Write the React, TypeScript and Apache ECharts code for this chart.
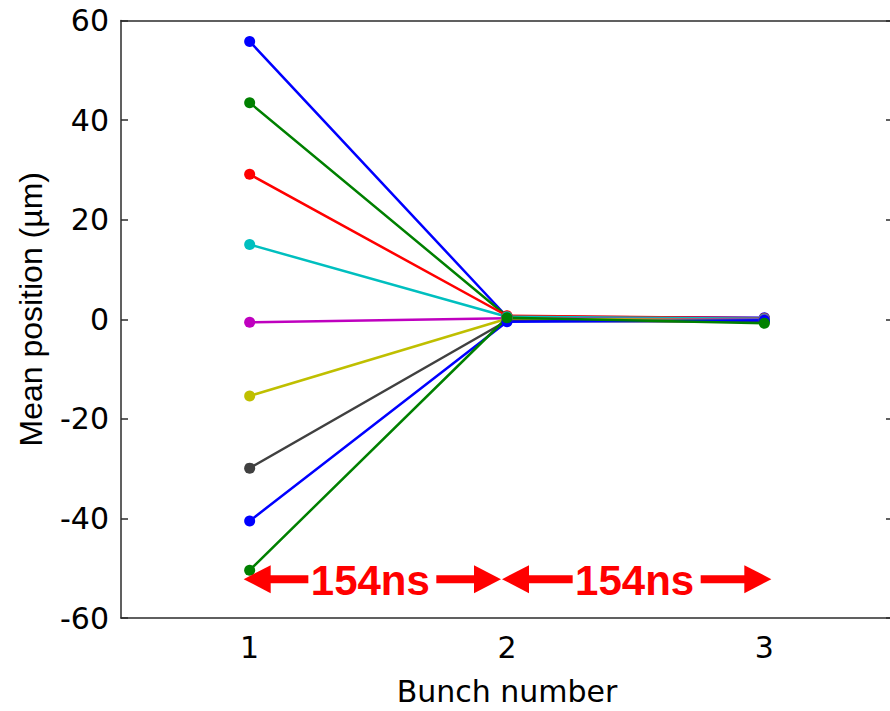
import React, { useEffect, useRef } from "react";
import * as echarts from "echarts";

const bunches = ["1", "2", "3"];
const yTicks = [-60, -40, -20, 0, 20, 40, 60];
const seriesColors = ["#0000FF", "#008000", "#FF0000", "#00BFBF", "#BF00BF", "#BFBF00", "#404040", "#0000FF", "#008000"];
const bunch1 = [55.8, 43.5, 29.1, 15.0, -0.6, -15.4, -29.9, -40.5, -50.4];
const bunch2 = [0.5, 0.6, 0.7, 0.5, 0.2, 0.1, -0.3, -0.5, 0.3];
const bunch3 = [0.3, 0.0, 0.2, 0.1, -0.1, -0.2, -0.5, -0.2, -0.8];
const arrowStart = [0, 1];
const arrowEnd = [1, 2];
const arrowY = [-52.2, -52.2];
const arrowLabels = ["154ns", "154ns"];

const AXIS_COLOR = "#2b2b2b";
const TICK_FONT = "DejaVu Sans";

export default function App() {
  const ref = useRef<HTMLDivElement>(null);
  useEffect(() => {
    if (!ref.current) return;
    const chart = echarts.init(ref.current, null, { renderer: "svg" });

    const lineSeries = seriesColors.map((c, i) => ({
      type: "line",
      xAxisIndex: 0,
      yAxisIndex: 0,
      data: [bunch1[i], bunch2[i], bunch3[i]],
      symbol: "circle",
      symbolSize: 11,
      showSymbol: true,
      itemStyle: { color: c },
      lineStyle: { color: c, width: 2.5 },
      z: 3,
    }));

    const tipPad = [[-6, -6], [-5, 7]];

    const arrowSeries = {
      type: "custom",
      xAxisIndex: 0,
      yAxisIndex: 0,
      data: arrowStart.map((s, i) => [s, arrowEnd[i], arrowY[i]]),
      encode: { x: [0, 1], y: 2 },
      z: 5,
      renderItem: (params: any, api: any) => {
        const i = params.dataIndex;
        const a = api.coord([api.value(0), api.value(2)]);
        const b = api.coord([api.value(1), api.value(2)]);
        const sx = a[0] + tipPad[i][0];
        const ex = b[0] + tipPad[i][1];
        const py = a[1];
        const mid = (sx + ex) / 2;
        const headL = 27;
        const headH = 14;
        const shaft = 4;
        const gap = 64;
        const red = "#FF0000";
        return {
          type: "group",
          children: [
            { type: "polygon", shape: { points: [[sx, py], [sx + headL, py - headH], [sx + headL, py + headH]] }, style: { fill: red } },
            { type: "rect", shape: { x: sx + headL - 1, y: py - shaft, width: mid - gap - (sx + headL - 1), height: shaft * 2 }, style: { fill: red } },
            { type: "rect", shape: { x: mid + gap, y: py - shaft, width: ex - headL + 1 - (mid + gap), height: shaft * 2 }, style: { fill: red } },
            { type: "polygon", shape: { points: [[ex, py], [ex - headL, py - headH], [ex - headL, py + headH]] }, style: { fill: red } },
            {
              type: "text",
              x: mid - 2,
              y: py + 1,
              style: {
                text: arrowLabels[i],
                fill: red,
                font: "bold 42px 'Liberation Sans', Arial, sans-serif",
                align: "center",
                verticalAlign: "middle",
              },
            },
          ],
        };
      },
    };

    const option: any = {
      animation: false,
      backgroundColor: "#ffffff",
      grid: { left: 121, top: 20.5, width: 772, height: 600.5, containLabel: false },
      xAxis: [
        {
          type: "category",
          data: bunches,
          boundaryGap: true,
          position: "bottom",
          name: "Bunch number",
          nameLocation: "middle",
          nameGap: 58,
          nameTextStyle: { fontFamily: TICK_FONT, fontSize: 30, color: "#000" },
          axisLine: { onZero: false, lineStyle: { color: AXIS_COLOR, width: 1.5 } },
          axisTick: { inside: true, alignWithLabel: true, length: 7, lineStyle: { color: AXIS_COLOR, width: 1.5 } },
          axisLabel: { fontFamily: TICK_FONT, fontSize: 30, color: "#000", margin: 14 },
          splitLine: { show: false },
        },
        {
          type: "category",
          data: bunches,
          boundaryGap: true,
          position: "top",
          axisLine: { onZero: false, lineStyle: { color: AXIS_COLOR, width: 1.5 } },
          axisTick: { inside: true, alignWithLabel: true, length: 7, lineStyle: { color: AXIS_COLOR, width: 1.5 } },
          axisLabel: { show: false },
          splitLine: { show: false },
        },
      ],
      yAxis: [
        {
          type: "value",
          min: yTicks[0],
          max: yTicks[yTicks.length - 1],
          interval: 20,
          position: "left",
          name: "Mean position (µm)",
          nameLocation: "middle",
          nameGap: 74,
          nameTextStyle: { fontFamily: "'Liberation Sans', Arial", fontSize: 32, color: "#000", padding: [0, 0, 0, 20] },
          axisLine: { show: true, onZero: false, lineStyle: { color: AXIS_COLOR, width: 1.5 } },
          axisTick: { show: true, inside: true, length: 7, lineStyle: { color: AXIS_COLOR, width: 1.5 } },
          axisLabel: { fontFamily: TICK_FONT, fontSize: 30, color: "#000", margin: 12 },
          splitLine: { show: false },
        },
        {
          type: "value",
          min: yTicks[0],
          max: yTicks[yTicks.length - 1],
          interval: 20,
          position: "right",
          axisLine: { show: true, onZero: false, lineStyle: { color: AXIS_COLOR, width: 1.5 } },
          axisTick: { show: true, inside: true, length: 7, lineStyle: { color: AXIS_COLOR, width: 1.5 } },
          axisLabel: { show: false },
          splitLine: { show: false },
        },
      ],
      series: [...lineSeries, arrowSeries],
    };
    chart.setOption(option);
    return () => chart.dispose();
  }, []);

  return (
    <div style={{ position: "fixed", left: 0, top: 0, width: 890, height: 711, overflow: "hidden", background: "#fff" }}>
      <div ref={ref} style={{ width: 900, height: 711 }} />
    </div>
  );
}
